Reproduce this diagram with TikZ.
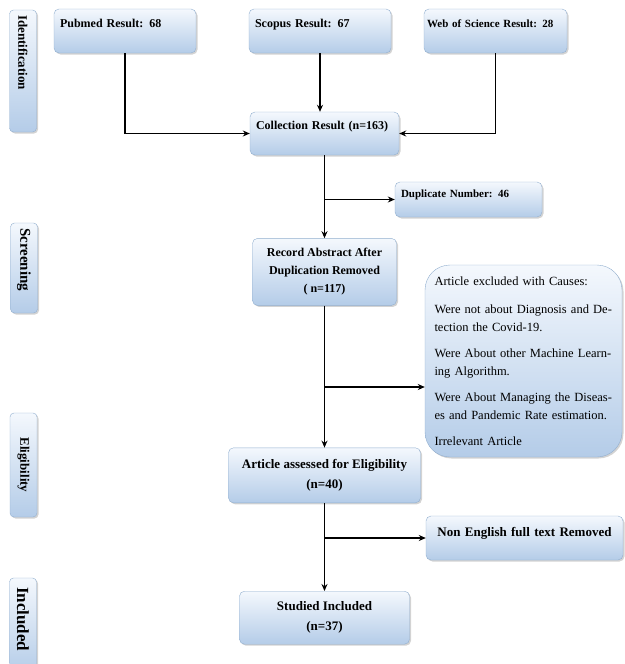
\documentclass[tikz,border=0pt]{standalone}
\usepackage{fontspec}
\setmainfont{Liberation Serif}
\usetikzlibrary{arrows.meta,positioning,shadows}
\definecolor{boxtop}{RGB}{244,248,253}
\definecolor{boxbot}{RGB}{180,204,232}
\definecolor{boxline}{RGB}{146,175,207}

\begin{document}
\begin{tikzpicture}[x=1pt, y=-1pt,
  box/.style={rectangle, rounded corners=5pt, draw=boxline, top color=boxtop, bottom color=boxbot, drop shadow={opacity=0.35, shadow xshift=1.5pt, shadow yshift=-1.5pt}, inner sep=0pt, align=center, font=\fontsize{12}{18}\selectfont\bfseries},
  topbox/.style={box, align=left, inner xsep=6pt},
  side/.style={box, rounded corners=4pt, minimum width=27pt},
  arr/.style={-{Stealth[length=7pt, width=6pt]}, line width=1.8pt}
]
\useasboundingbox (0,0) rectangle (624,664);

\node[side, minimum height=122pt, font=\fontsize{13}{15}\selectfont\bfseries] (ident) at (23,71) {\rotatebox{-90}{\makebox[112pt][l]{Identification}}};
\node[side, minimum height=90pt, font=\fontsize{15}{17}\selectfont\bfseries] (screen) at (24,268) {\rotatebox{-90}{\makebox[80pt][l]{Screening}}};
\node[side, minimum height=104pt, font=\fontsize{13}{15}\selectfont\bfseries] (elig) at (23.5,465) {\rotatebox{-90}{Eligibility}};
\node[side, minimum height=96pt, font=\fontsize{17}{19}\selectfont\bfseries] (incl) at (23,626) {\rotatebox{-90}{\makebox[78pt][l]{Included}}};

\node[topbox, text width=130pt, text height=18pt, text depth=26pt] (pubmed) at (125,31) {Pubmed Result: 68};
\node[topbox, text width=130pt, text height=18pt, text depth=26pt] (scopus) at (320,31) {Scopus Result: 67};
\node[topbox, inner xsep=3pt, text width=137pt, text height=18pt, text depth=26pt, font=\fontsize{11}{14}\selectfont\bfseries] (wos) at (495.5,31) {Web of Science Result: 28};

\node[topbox, text width=137pt, text height=17pt, text depth=26pt] (collect) at (324.5,133.5) {Collection Result (n=163)};
\node[topbox, text width=135pt, text height=15pt, text depth=20pt, font=\fontsize{11}{14}\selectfont\bfseries] (dup) at (468.5,199.5) {Duplicate Number: 46};

\node[box, below=83pt of collect, minimum width=144pt, minimum height=67pt] (record) {Record Abstract After\\Duplication Removed\\( n=117)};
\node[box, rounded corners=25pt, minimum width=197pt, minimum height=192pt, text width=178pt, align=left, font=\fontsize{12.5}{18}\selectfont] (excl) at (523.5,361) {Article excluded with Causes:\\[10pt]Were not about Diagnosis and De-\\tection the Covid-19.\\[8pt]Were About other Machine Learn-\\ing Algorithm.\\[8pt]Were About Managing the Diseas-\\es and Pandemic Rate estimation.\\[8pt]Irrelevant Article};

\node[box, below=142pt of record, minimum width=192pt, minimum height=55pt, font=\fontsize{13}{20}\selectfont\bfseries] (article) {Article assessed for Eligibility\\(n=40)};
\node[topbox, align=center, text width=185pt, text height=20pt, text depth=24pt, font=\fontsize{13}{15}\selectfont\bfseries] (nonen) at (524.5,538) {Non English full text Removed};
\node[box, below=88pt of article, minimum width=170pt, minimum height=53pt, font=\fontsize{13}{20}\selectfont\bfseries] (studied) {Studied Included\\(n=37)};

\coordinate (exclin) at ([yshift=-26pt]excl.west);

\draw[arr] (pubmed.south) |- (collect.west);
\draw[arr] (scopus.south) -- (scopus.south |- collect.north);
\draw[arr] (wos.south) |- (collect.east);
\draw[arr] (collect.south) -- (record.north);
\draw[arr] (collect.south |- dup.west) -- (dup.west);
\draw[arr] (record.south) -- (article.north);
\draw[arr] (record.south |- exclin) -- (exclin);
\draw[arr] (article.south) -- (studied.north);
\draw[arr] (article.south |- nonen.west) -- (nonen.west);
\end{tikzpicture}
\end{document}
